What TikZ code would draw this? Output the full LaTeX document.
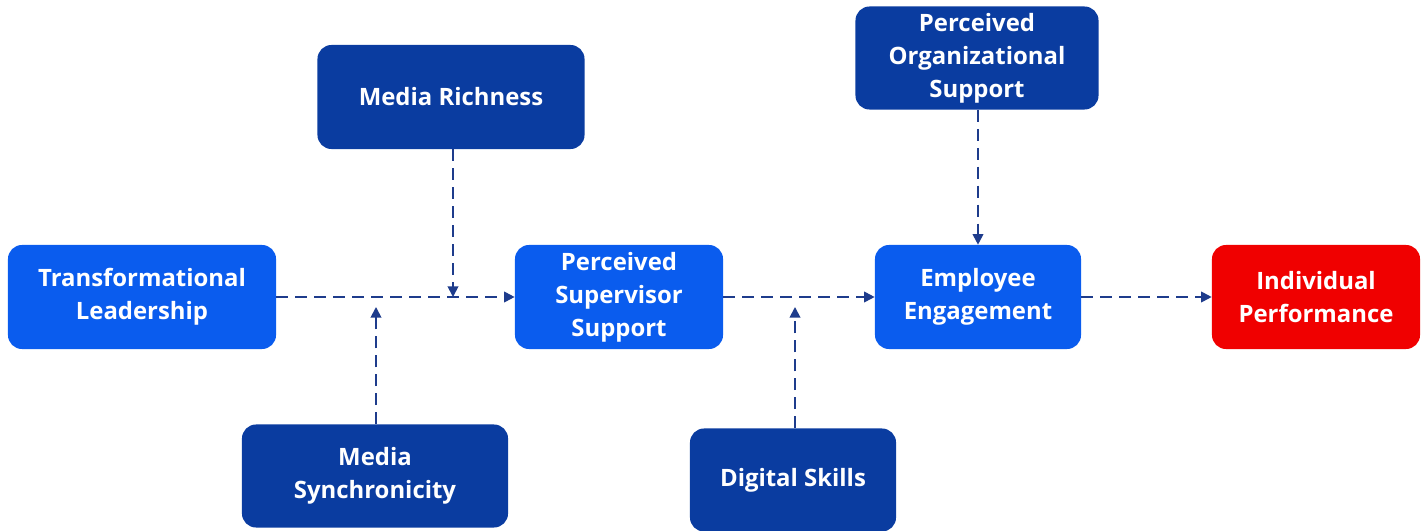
\documentclass[tikz,border=0pt]{standalone}
\usepackage{fontspec}
\setmainfont{Open Sans}
\usetikzlibrary{arrows.meta}
\definecolor{lightblue}{RGB}{10,92,238}
\definecolor{darkblue}{RGB}{10,60,160}
\definecolor{redbox}{RGB}{240,0,0}
\definecolor{arrowblue}{RGB}{30,60,140}
\begin{document}
\begin{tikzpicture}[x=0.025cm,y=-0.025cm,
    box/.style={rounded corners=0.35cm,text=white,align=center,
      font=\fontsize{17}{23.4}\selectfont\bfseries,inner sep=0pt,
      minimum height=2.6cm},
    mainbox/.style={box,fill=lightblue},
    modbox/.style={box,fill=darkblue},
    outbox/.style={box,fill=redbox},
    link/.style={arrowblue,line width=1.3pt,dash pattern=on 8.5pt off 5pt,
      -{Triangle[width=7.5pt,length=7.5pt]}}]
  \useasboundingbox (0,0) rectangle (1428,531);

  % main path
  \node[mainbox,minimum width=6.7cm]  (tl)  at (142,297) {Transformational\\Leadership};
  \node[mainbox,minimum width=5.2cm]  (pss) at (619,297) {Perceived\\Supervisor\\Support};
  \node[mainbox,minimum width=5.15cm] (ee)  at (978,297) {Employee\\Engagement};
  \node[outbox,minimum width=5.2cm]   (ip)  at (1316,297) {Individual\\Performance};

  % moderators
  \node[modbox,minimum width=6.675cm] (mr)  at (451,97)  {Media Richness};
  \node[modbox,minimum width=6.65cm,minimum height=2.575cm] (ms) at (375,476) {Media\\Synchronicity};
  \node[modbox,minimum width=5.15cm,minimum height=2.575cm] (ds) at (793,480) {Digital Skills};
  \node[modbox,minimum width=6.075cm,minimum height=2.575cm] (pos) at (977,58) {Perceived\\Organizational\\Support};

  \coordinate (mrin) at (453,297);
  \coordinate (msin) at (376,307);
  \coordinate (dsin) at (795,307);

  \draw[link] (tl) -- (pss);
  \draw[link] (pss) -- (ee);
  \draw[link] (ee) -- (ip);
  \draw[link] (mr.south -| mrin) -- (mrin);
  \draw[link] (ms.north -| msin) -- (msin);
  \draw[link] (ds.north -| dsin) -- (dsin);
  \draw[link] (pos.south -| ee.north) -- (ee.north);
\end{tikzpicture}
\end{document}
